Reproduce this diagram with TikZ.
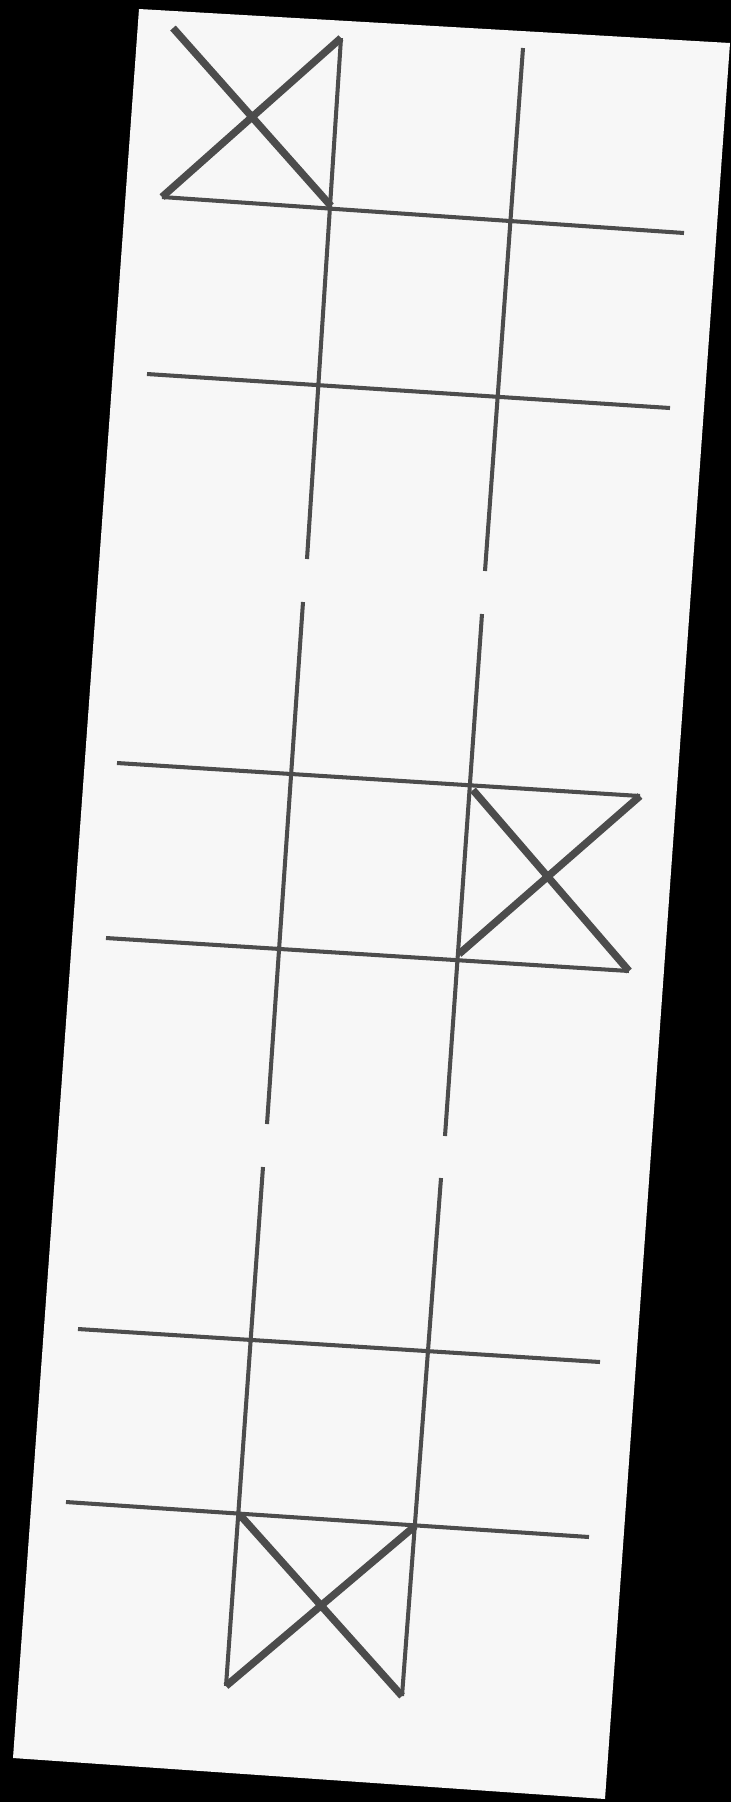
\documentclass[tikz,border=0pt]{standalone}
\definecolor{ink}{HTML}{4C4C4C}
\definecolor{paper}{HTML}{F7F7F7}
\begin{document}
\begin{tikzpicture}[x=0.01cm, y=-0.01cm,
  gridline/.style={draw=ink, line width=1.15pt},
  crossline/.style={draw=ink, line width=2.1pt, line join=round}]
% scanned strip on black
\fill[black] (0,0) rectangle (731,1802);
\fill[paper] (139,9) -- (730,43) -- (605,1799) -- (13,1758) -- cycle;

% top board
\coordinate (A1) at (341,38);  \coordinate (A2) at (307,559);
\coordinate (B1) at (523,48);  \coordinate (B2) at (485,571);
\coordinate (H1) at (162,197); \coordinate (H2) at (684,233);
\coordinate (K1) at (147,374); \coordinate (K2) at (670,408);
\draw[gridline] (A1) -- (A2) (B1) -- (B2) (H1) -- (H2) (K1) -- (K2);
\draw[crossline] (173,28) -- (331,206) (H1) -- (A1);

% middle board
\coordinate (C1) at (303,602); \coordinate (C2) at (267,1124);
\coordinate (D1) at (482,614); \coordinate (D2) at (445,1136);
\coordinate (P1) at (117,763); \coordinate (P2) at (640,796);
\coordinate (Q1) at (106,938); \coordinate (Q2) at (629,971);
\draw[gridline] (C1) -- (C2) (D1) -- (D2) (P1) -- (P2) (Q1) -- (Q2);
\draw[crossline] (473,790) -- (Q2) (459,954) -- (P2);

% bottom board
\coordinate (E1) at (263,1167); \coordinate (E2) at (226,1686);
\coordinate (F1) at (441,1178); \coordinate (F2) at (402,1696);
\coordinate (R1) at (78,1329);  \coordinate (R2) at (600,1362);
\coordinate (S1) at (66,1502);  \coordinate (S2) at (589,1537);
\draw[gridline] (E1) -- (E2) (F1) -- (F2) (R1) -- (R2) (S1) -- (S2);
\draw[crossline] (240,1515) -- (F2) (E2) -- (415,1526);
\end{tikzpicture}
\end{document}
